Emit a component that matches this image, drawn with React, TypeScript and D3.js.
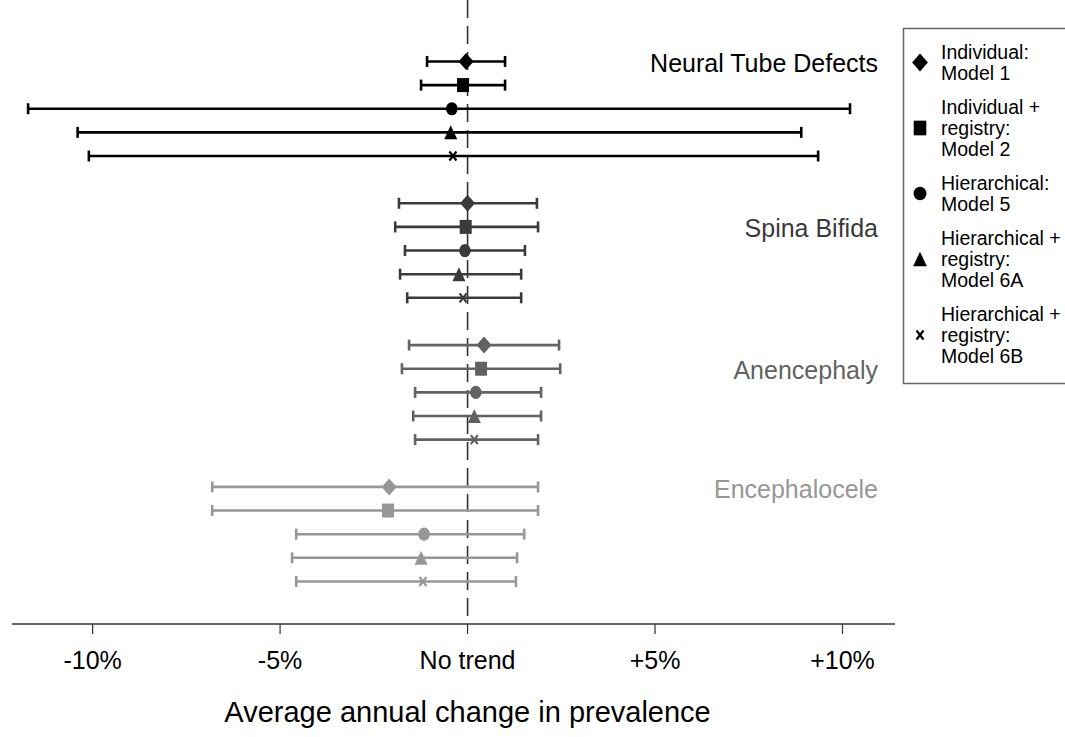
import React from "react";
import * as d3 from "d3";

// ---- data (average annual change in prevalence, %) ----
const groups = ["Neural Tube Defects", "Spina Bifida", "Anencephaly", "Encephalocele"];
const groupColors = ["#000000", "#3a3a3a", "#626262", "#979797"];
const models = [
  "Individual: Model 1",
  "Individual + registry: Model 2",
  "Hierarchical: Model 5",
  "Hierarchical + registry: Model 6A",
  "Hierarchical + registry: Model 6B",
];
const legendLines = [
  ["Individual:", "Model 1"],
  ["Individual +", "registry:", "Model 2"],
  ["Hierarchical:", "Model 5"],
  ["Hierarchical +", "registry:", "Model 6A"],
  ["Hierarchical +", "registry:", "Model 6B"],
];
const markerTypes = ["diamond", "square", "circle", "triangle", "cross"];

// estimates per group, per model
const ntdEst = [-0.04, -0.12, -0.42, -0.45, -0.39];
const ntdLow = [-1.08, -1.24, -11.72, -10.4, -10.1];
const ntdHigh = [1.0, 1.0, 10.2, 8.9, 9.35];

const sbEst = [0.0, -0.05, -0.07, -0.23, -0.12];
const sbLow = [-1.83, -1.93, -1.67, -1.8, -1.61];
const sbHigh = [1.85, 1.88, 1.53, 1.43, 1.43];

const anEst = [0.44, 0.36, 0.22, 0.18, 0.18];
const anLow = [-1.56, -1.75, -1.4, -1.45, -1.4];
const anHigh = [2.44, 2.47, 1.96, 1.96, 1.88];

const encEst = [-2.09, -2.12, -1.16, -1.24, -1.19];
const encLow = [-6.81, -6.81, -4.57, -4.68, -4.57];
const encHigh = [1.88, 1.88, 1.51, 1.32, 1.29];

const estimates = [ntdEst, sbEst, anEst, encEst];
const lows = [ntdLow, sbLow, anLow, encLow];
const highs = [ntdHigh, sbHigh, anHigh, encHigh];

const tickValues = [-10, -5, 0, 5, 10];
const tickLabels = ["-10%", "-5%", "No trend", "+5%", "+10%"];
const xTitle = "Average annual change in prevalence";

// ---- layout ----
const W = 1065;
const H = 737;
const FONT = "'Liberation Sans', Arial, sans-serif";
const labelRowOffset = [0.05, 1.05, 1.05, 0.1];

const x = d3.scaleLinear().domain([-12.15, 11.4]).range([12, 895]);
const y = d3.scaleLinear().domain([-2.6, 23.8]).range([0, 624]);

function markerPath(type: string, big = false): string | null {
  const s = big ? 1.05 : 1;
  switch (type) {
    case "diamond": {
      const w = 7.5 * s, h = 8.5 * s;
      return `M0,${-h}L${w},0L0,${h}L${-w},0Z`;
    }
    case "square": {
      const w = 6 * s, h = 7 * s;
      return `M${-w},${-h}H${w}V${h}H${-w}Z`;
    }
    case "triangle": {
      const w = 6.5 * s, h = 7 * s;
      return `M0,${-h}L${w},${h}L${-w},${h}Z`;
    }
    default:
      return null;
  }
}

function Marker({ type, cx, cy, color, legend = false }: any) {
  if (type === "circle") {
    return legend ? (
      <ellipse cx={cx} cy={cy} rx={6.5} ry={6.8} fill={color} />
    ) : (
      <ellipse cx={cx} cy={cy} rx={5.8} ry={6.6} fill={color} />
    );
  }
  if (type === "cross") {
    const a = 3.5, b = 4.5;
    return (
      <g stroke={color} strokeWidth={2.2}>
        <line x1={cx - a} y1={cy - b} x2={cx + a} y2={cy + b} />
        <line x1={cx - a} y1={cy + b} x2={cx + a} y2={cy - b} />
      </g>
    );
  }
  return <path d={markerPath(type, legend)!} transform={`translate(${cx},${cy})`} fill={color} />;
}

export default function App() {
  const rows: any[] = [];
  groups.forEach((g, gi) => {
    models.forEach((m, mi) => {
      rows.push({
        gi,
        mi,
        row: gi * 6 + mi,
        est: estimates[gi][mi],
        lo: lows[gi][mi],
        hi: highs[gi][mi],
      });
    });
  });

  const capH = 5.5;
  const axisY = 624;

  // legend layout
  const lineH = 21;
  const entryGap = 13;
  let cursor = 52;
  const legendItems = legendLines.map((lines, i) => {
    const first = cursor;
    const last = first + (lines.length - 1) * lineH;
    cursor = last + lineH + entryGap;
    return { lines, first, center: (first + last) / 2, type: markerTypes[i] };
  });

  return (
    <svg
      width={W}
      height={H}
      style={{ position: "absolute", left: 0, top: 0, background: "#fff" }}
      fontFamily={FONT}
    >
      {/* zero reference line */}
      <line
        x1={x(0)}
        x2={x(0)}
        y1={0}
        y2={axisY}
        stroke="#333"
        strokeWidth={1.6}
        strokeDasharray="18,8"
      />

      {/* error bars */}
      {rows.map((r, i) => {
        const c = groupColors[r.gi];
        const yy = y(r.row);
        return (
          <g key={i}>
            <line x1={x(r.lo)} x2={x(r.hi)} y1={yy} y2={yy} stroke={c} strokeWidth={2.6} />
            <line x1={x(r.lo)} x2={x(r.lo)} y1={yy - capH} y2={yy + capH} stroke={c} strokeWidth={2.6} />
            <line x1={x(r.hi)} x2={x(r.hi)} y1={yy - capH} y2={yy + capH} stroke={c} strokeWidth={2.6} />
            <Marker type={markerTypes[r.mi]} cx={x(r.est)} cy={yy} color={c} />
          </g>
        );
      })}

      {/* group labels */}
      {groups.map((g, gi) => (
        <text
          key={g}
          x={878}
          y={y(gi * 6 + labelRowOffset[gi])}
          dy="0.36em"
          textAnchor="end"
          fontSize={25}
          fill={groupColors[gi]}
        >
          {g}
        </text>
      ))}

      {/* x axis */}
      <line x1={12} x2={895} y1={axisY} y2={axisY} stroke="#333" strokeWidth={1.6} />
      {tickValues.map((t, i) => (
        <g key={t}>
          <line x1={x(t)} x2={x(t)} y1={axisY} y2={axisY + 10} stroke="#333" strokeWidth={1.2} />
          <text x={x(t)} y={669} textAnchor="middle" fontSize={25} fill="#000">
            {tickLabels[i]}
          </text>
        </g>
      ))}
      <text x={x(0)} y={722} textAnchor="middle" fontSize={29} fill="#000">
        {xTitle}
      </text>

      {/* legend */}
      <rect x={903.5} y={28.5} width={170} height={355} fill="#fff" stroke="#666" strokeWidth={1.5} />
      {legendItems.map((it, i) => (
        <g key={i}>
          <Marker type={it.type} cx={920} cy={it.center} color="#000" legend />
          {it.lines.map((l, j) => (
            <text key={j} x={941} y={it.first + j * lineH} dy="0.36em" fontSize={19.5} fill="#000">
              {l}
            </text>
          ))}
        </g>
      ))}
    </svg>
  );
}
